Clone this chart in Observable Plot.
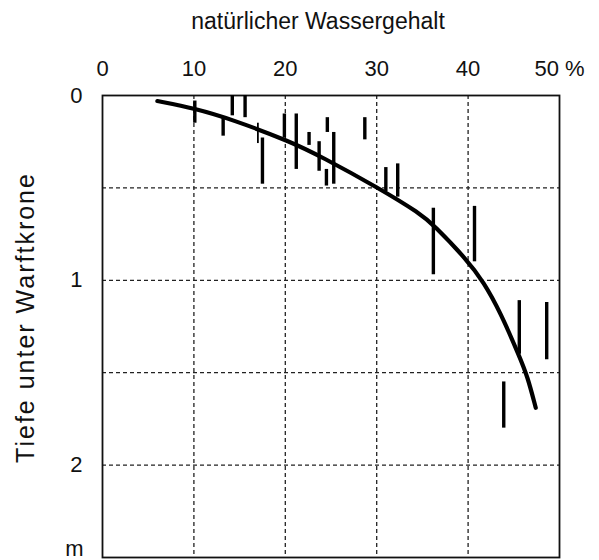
<!DOCTYPE html>
<html>
<head>
<meta charset="utf-8">
<script src="https://cdn.jsdelivr.net/npm/d3@7"></script>
<script src="https://cdn.jsdelivr.net/npm/@observablehq/plot@0.6"></script>
<style>
  html, body { margin: 0; padding: 0; background: #fff; }
  svg { font-family: "Liberation Sans", Arial, sans-serif; }
</style>
</head>
<body>
<div id="chart"></div>
<script>
// ---- data ----
const titleText = "natürlicher Wassergehalt";
const yLabelText = "Tiefe unter Warftkrone";
const xTicks = [0, 10, 20, 30, 40, 50];
const xTickLabels = ["0", "10", "20", "30", "40", "50 %"];
const yTicks = [0, 1, 2];
const yUnit = "m";
const yUnitPos = [2.5];
const gridX = [10, 20, 30, 40];
const gridY = [0.5, 1, 1.5, 2];

// measured ranges: water content (%), depth top (m), depth bottom (m)
const barX      = [10.1, 13.2, 14.2, 15.6, 17.5, 19.9, 21.2, 22.6, 23.7, 24.6, 24.5, 25.3, 28.7, 31.0, 32.3, 36.2, 40.7, 45.6, 48.6, 43.9];
const barTop    = [0.03, 0.12, 0.00, 0.00, 0.23, 0.10, 0.10, 0.20, 0.25, 0.12, 0.40, 0.20, 0.12, 0.39, 0.37, 0.61, 0.60, 1.11, 1.12, 1.55];
const barBottom = [0.15, 0.22, 0.11, 0.12, 0.48, 0.23, 0.40, 0.27, 0.41, 0.20, 0.49, 0.48, 0.24, 0.52, 0.55, 0.97, 0.90, 1.40, 1.43, 1.80];
const thinBarX = [17.0];
const thinBarTop = [0.15];
const thinBarBottom = [0.26];

// fitted curve
const curveX = [6.0, 10.1, 14.2, 20.6, 23.9, 30.2, 34.8, 36.2, 39.9, 41.7, 43.5, 45.6, 46.5, 47.4];
const curveY = [0.03, 0.07, 0.13, 0.25, 0.33, 0.50, 0.64, 0.70, 0.89, 1.01, 1.17, 1.41, 1.52, 1.69];

// ---- tables ----
const bars = barX.map((x, i) => ({x, y1: barTop[i], y2: barBottom[i]}));
const thinBars = thinBarX.map((x, i) => ({x, y1: thinBarTop[i], y2: thinBarBottom[i]}));
const curve = curveX.map((x, i) => ({x, y: curveY[i]}));

const chart = Plot.plot({
  width: 599,
  height: 560,
  marginLeft: 102,
  marginRight: 40,
  marginTop: 95,
  marginBottom: 3,
  style: {fontFamily: "'Liberation Sans', Arial, sans-serif", fontSize: "22px", color: "#111", background: "#fff"},
  x: {domain: [0, 50]},
  y: {domain: [0, 2.5], reverse: true},
  marks: [
    Plot.ruleX(gridX, {stroke: "#222", strokeWidth: 1.3, strokeDasharray: "4,3"}),
    Plot.ruleY(gridY, {stroke: "#222", strokeWidth: 1.3, strokeDasharray: "4,3"}),
    Plot.frame({stroke: "#111", strokeWidth: 1.8}),
    Plot.axisX({anchor: "top", ticks: xTicks, tickSize: 0, tickPadding: 20,
      tickFormat: d => xTickLabels[xTicks.indexOf(d)], fontSize: 22, label: null}),
    Plot.axisY({anchor: "left", ticks: yTicks, tickSize: 0, tickPadding: 20,
      tickFormat: d => String(d), fontSize: 22, label: null}),
    Plot.text(yUnitPos, {x: 0, y: d => d, text: () => yUnit, textAnchor: "middle", dx: -28, lineAnchor: "bottom", dy: -2, fontSize: 22}),
    Plot.text([titleText], {frameAnchor: "top", dx: -13, dy: -67, lineAnchor: "bottom", textAnchor: "middle", fontSize: 23}),
    Plot.text([yLabelText], {frameAnchor: "left", dx: -77, dy: -9, rotate: -90, textAnchor: "middle", lineAnchor: "middle", fontSize: 25, className: "ylab"}),
    Plot.ruleX(bars, {x: "x", y1: "y1", y2: "y2", stroke: "#000", strokeWidth: 3.4}),
    Plot.ruleX(thinBars, {x: "x", y1: "y1", y2: "y2", stroke: "#000", strokeWidth: 1.8}),
    Plot.line(curve, {x: "x", y: "y", curve: "basis", stroke: "#000", strokeWidth: 4.2})
  ]
});
document.getElementById("chart").appendChild(chart);
// widen the rotated axis title a little, as in the reference lettering
d3.select(chart).selectAll("text").filter(function() { return this.textContent === yLabelText; })
  .style("letter-spacing", "2px");
</script>
</body>
</html>
